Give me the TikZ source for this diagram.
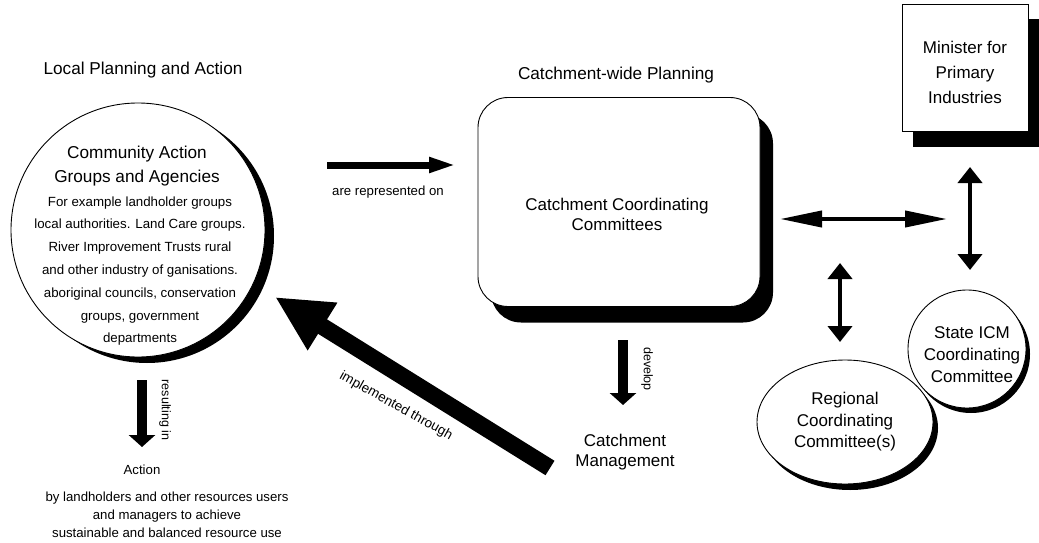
\documentclass[tikz,border=0pt]{standalone}
\usepackage{fontspec}
\setmainfont{Liberation Sans}
\usetikzlibrary{arrows.meta,shadows,shapes.geometric}

\begin{document}
\begin{tikzpicture}[x=1pt,y=-1pt,
	every node/.style={align=center,inner sep=0pt},
	bigtxt/.style={font=\fontsize{17.2}{24}\selectfont},
	listtxt/.style={font=\fontsize{13.3}{22.8}\selectfont},
	smalltxt/.style={font=\fontsize{13.2}{18}\selectfont},
	sidetxt/.style={font=\fontsize{12.5}{14}\selectfont,rotate=-90},
	blob/.style 2 args={draw,fill=white,line width=.9pt,
		drop shadow={shadow xshift=#1,shadow yshift=#2,fill=black,opacity=1}},
	fatarr/.style={line width=9.5pt,-{Triangle[width=26pt,length=12pt]}},
	dblarr/.style={line width=4.5pt,{Triangle[width=24pt,length=16pt]}-{Triangle[width=24pt,length=16pt]}},
]
	\useasboundingbox (0,0) rectangle (1039,543);
	\node[bigtxt] (loc) at (143,70) {Local Planning and Action};
	\node[blob={9pt}{-6pt},circle,minimum size=254pt] (cag) at (138,230) {};
	\node[bigtxt] (cagt) at (137,166) {Community Action\\Groups and Agencies};
	\node[listtxt] (cagl) at (140,271) {For example landholder groups\\local authorities. Land Care groups.\\River Improvement Trusts rural\\and other industry of ganisations.\\aboriginal councils, conservation\\groups, government\\departments};

	\coordinate (r1) at (327,165);
	\coordinate (r2) at (457,165);
	\draw[line width=7pt,-{Triangle[width=14pt,length=28pt]}] (r1) -- (r2);
	\node[smalltxt] (rep) at (388,192) {are represented on};

	\node[bigtxt] (cwp) at (616,75) {Catchment-wide Planning};
	\node[blob={13pt}{-16pt},rounded corners=30pt,minimum width=282pt,minimum height=209pt] (ccc) at (619,202) {};
	\node[font=\fontsize{17}{20}\selectfont] (ccct) at (617,214) {Catchment Coordinating\\Committees};

	\coordinate (d1) at (623,340);
	\coordinate (d2) at (623,405);
	\draw[fatarr] (d1) -- (d2);
	\node[sidetxt] (dev) at (647,369) {develop};
	\node[font=\fontsize{17}{20}\selectfont] (cm) at (625,452) {Catchment\\Management};

	\coordinate (i1) at (550,468);
	\coordinate (i2) at (275,297);
	\draw[line width=17pt,-{Triangle[width=52pt,length=56pt]}] (i1) -- (i2);
	\node[font=\fontsize{13.5}{15}\selectfont,rotate=-29] (imp) at (396,406) {implemented through};

	\coordinate (a1) at (142,380);
	\coordinate (a2) at (142,447);
	\draw[fatarr] (a1) -- (a2);
	\node[sidetxt] (res) at (165,410) {resulting in};
	\node[smalltxt] (act) at (142,470) {Action};
	\node[smalltxt] (actl) at (167,515) {by landholders and other resources users\\and managers to achieve\hspace*{22pt}\\sustainable and balanced resource use};

	\node[blob={11pt}{-15pt},minimum width=126pt,minimum height=127pt] (mpi) at (965,68) {};
	\node[font=\fontsize{17}{25}\selectfont] (mpit) at (965,72) {Minister for\\Primary\\Industries};
	\node[blob={4pt}{-5pt},circle,minimum size=118pt] (sicm) at (967,349) {};
	\node[font=\fontsize{17}{22}\selectfont] (sicmt) at (972,355) {State ICM\\Coordinating\\Committee};
	\node[blob={5pt}{-6pt},ellipse,minimum width=176pt,minimum height=124pt,font=\fontsize{17}{21.5}\selectfont] (rcc) at (845,422) {Regional\\Coordinating\\Committee(s)};

	\coordinate (h1) at (780,219);
	\coordinate (h2) at (947,219);
	\draw[line width=4pt,{Triangle[width=16pt,length=42pt]}-{Triangle[width=16pt,length=42pt]}] (h1) -- (h2);
	\coordinate (v1) at (970,167);
	\coordinate (v2) at (970,270);
	\draw[dblarr] (v1) -- (v2);
	\coordinate (w1) at (840,263);
	\coordinate (w2) at (840,342);
	\draw[dblarr] (w1) -- (w2);
\end{tikzpicture}
\end{document}
